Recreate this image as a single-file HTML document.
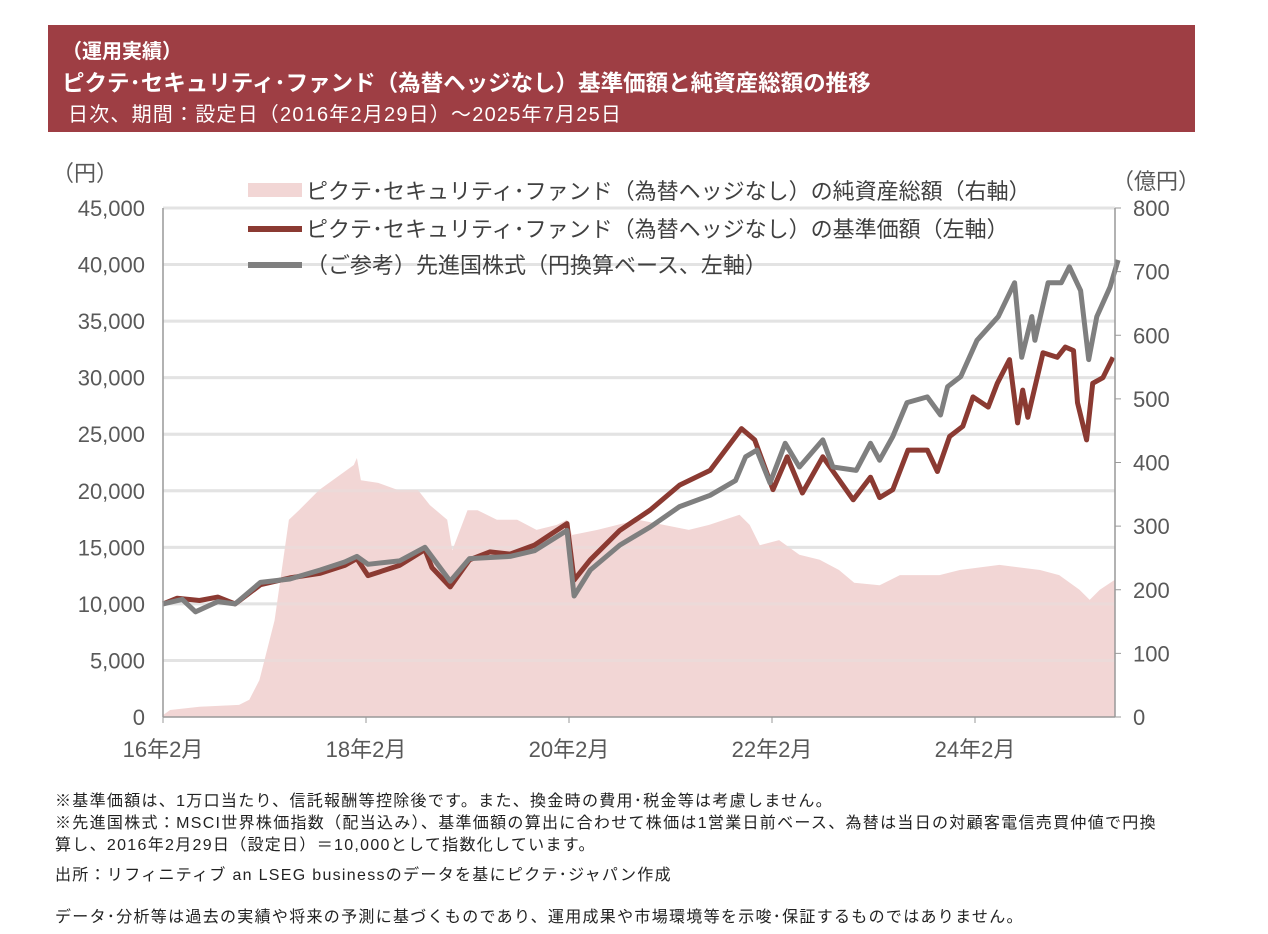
<!DOCTYPE html>
<html><head><meta charset="utf-8">
<style>
body{margin:0;background:#fff;width:1268px;height:934px;overflow:hidden;font-family:"Liberation Sans","Noto Sans CJK JP",sans-serif;}
#hdr{position:absolute;left:48px;top:25px;width:1147px;height:107px;background:#9e3e44;color:#fff;}
#hdr div{position:absolute;left:14px;white-space:nowrap;}
.note{position:absolute;left:55px;font-size:16px;letter-spacing:1.3px;color:#222;white-space:nowrap;}
</style></head><body>
<div id="hdr">
<div style="top:10px;font-size:20px;font-weight:bold;">（運用実績）</div>
<div style="top:41px;font-size:22.5px;font-weight:bold;">ピクテ･セキュリティ･ファンド（為替ヘッジなし）基準価額と純資産総額の推移</div>
<div style="top:73px;font-size:20px;letter-spacing:1.2px;left:20px;">日次、期間：設定日（2016年2月29日）～2025年7月25日</div>
</div>
<svg id="chart" width="1268" height="934" style="position:absolute;left:0;top:0"></svg>
<div class="note" style="top:787px">※基準価額は、1万口当たり、信託報酬等控除後です。また、換金時の費用･税金等は考慮しません。</div>
<div class="note" style="top:809px">※先進国株式：MSCI世界株価指数（配当込み）、基準価額の算出に合わせて株価は1営業日前ベース、為替は当日の対顧客電信売買仲値で円換</div>
<div class="note" style="top:831px">算し、2016年2月29日（設定日）＝10,000として指数化しています。</div>
<div class="note" style="top:861px">出所：リフィニティブ an LSEG businessのデータを基にピクテ･ジャパン作成</div>
<div class="note" style="top:903px">データ･分析等は過去の実績や将来の予測に基づくものであり、運用成果や市場環境等を示唆･保証するものではありません。</div>
<script>
const leftTicks=[0,5000,10000,15000,20000,25000,30000,35000,40000,45000];
const rightTicks=[0,100,200,300,400,500,600,700,800];
const xTickYears=[2016.16,2018.16,2020.16,2022.16,2024.16];
const xTickLabels=["16年2月","18年2月","20年2月","22年2月","24年2月"];
const fundT=[2016.16,2016.3,2016.52,2016.7,2016.87,2017.12,2017.41,2017.71,2017.95,2018.07,2018.18,2018.49,2018.74,2018.81,2018.99,2019.18,2019.38,2019.58,2019.82,2020.14,2020.21,2020.37,2020.66,2020.96,2021.25,2021.55,2021.86,2021.99,2022.17,2022.31,2022.46,2022.66,2022.96,2023.13,2023.22,2023.35,2023.5,2023.69,2023.79,2023.91,2024.04,2024.14,2024.29,2024.38,2024.5,2024.58,2024.63,2024.68,2024.83,2024.97,2025.05,2025.13,2025.17,2025.26,2025.32,2025.42,2025.52];
const fundV=[10000,10500,10300,10600,10000,11700,12300,12700,13400,14000,12500,13400,14800,13200,11500,13900,14600,14400,15200,17100,12100,13900,16500,18300,20500,21800,25500,24500,20100,23000,19800,23000,19200,21200,19400,20100,23600,23600,21700,24800,25700,28300,27400,29500,31600,26000,28900,26500,32200,31800,32700,32400,27800,24500,29500,30000,31800];
const msciT=[2016.16,2016.35,2016.48,2016.7,2016.87,2017.12,2017.41,2017.71,2017.95,2018.07,2018.18,2018.49,2018.74,2018.99,2019.18,2019.58,2019.82,2020.14,2020.21,2020.37,2020.66,2020.96,2021.25,2021.55,2021.8,2021.9,2022.01,2022.14,2022.29,2022.43,2022.66,2022.76,2022.99,2023.13,2023.22,2023.35,2023.49,2023.69,2023.82,2023.89,2024.02,2024.18,2024.39,2024.55,2024.62,2024.72,2024.75,2024.88,2025.01,2025.09,2025.2,2025.28,2025.36,2025.49,2025.57];
const msciV=[10000,10400,9300,10200,10000,11900,12200,13000,13700,14200,13500,13800,15000,12000,14000,14200,14700,16500,10700,13000,15200,16800,18600,19600,20900,23000,23600,20700,24200,22100,24500,22100,21800,24200,22700,24800,27800,28300,26700,29200,30100,33300,35400,38400,31800,35400,33300,38400,38400,39800,37700,31600,35400,38000,40400];
const aumT=[2016.16,2016.23,2016.52,2016.91,2017.01,2017.11,2017.26,2017.4,2017.5,2017.7,2017.9,2018.04,2018.07,2018.11,2018.28,2018.47,2018.67,2018.79,2018.96,2019.01,2019.16,2019.26,2019.45,2019.65,2019.84,2020.04,2020.14,2020.19,2020.44,2020.84,2021.34,2021.54,2021.84,2021.94,2022.04,2022.23,2022.43,2022.63,2022.82,2022.97,2023.22,2023.42,2023.81,2024.01,2024.4,2024.8,2024.99,2025.19,2025.29,2025.39,2025.54];
const aumV=[3,11,16,19,27,58,152,310,325,357,380,396,407,372,368,357,357,333,310,262,325,325,310,310,294,302,310,286,294,310,294,302,318,302,270,278,255,247,231,211,207,223,223,231,239,231,223,200,184,200,216];

const svg=document.getElementById('chart');
const NS='http://www.w3.org/2000/svg';
const X0=163,X1=1115,Y0=717,Y1=208;
const xs=t=>X0+(t-2016.16)*101.5;
const yl=v=>Y0-v/45000*(Y0-Y1);
const yr=v=>Y0-v/800*(Y0-Y1);
function mk(tag,attrs,parent){const e=document.createElementNS(NS,tag);for(const k in attrs)e.setAttribute(k,attrs[k]);(parent||svg).appendChild(e);return e;}
function txt(s,attrs){const e=mk('text',Object.assign({'font-size':22,fill:'#595959','font-family':'"Liberation Sans","Noto Sans CJK JP",sans-serif'},attrs));e.textContent=s;return e;}

leftTicks.forEach(v=>{
 if(v>0){const g=mk('line',{x1:X0,x2:X1,y1:yl(v),y2:yl(v),stroke:'#e3e3e3','stroke-width':3});
 
 }
 const t=txt(v.toLocaleString('en-US'),{x:145,y:yl(v)+8,'text-anchor':'end'});
 
 
});
rightTicks.forEach(v=>{
 mk('line',{x1:X1,x2:X1+6,y1:yr(v),y2:yr(v),stroke:'#999','stroke-width':1});
 const t=txt(String(v),{x:1133,y:yr(v)+8});
 
 
});
let d=`M${xs(aumT[0])},${Y0}`;aumT.forEach((t,i)=>{d+=` L${xs(t).toFixed(1)},${yr(aumV[i]).toFixed(1)}`;});d+=` L${xs(aumT[aumT.length-1])},${Y0} Z`;
const area=mk('path',{d:d,fill:'#f2d6d5'});


leftTicks.forEach(v=>{if(v>0)mk('line',{x1:X0,x2:X1,y1:yl(v),y2:yl(v),stroke:'#e3e3e3','stroke-width':3,'stroke-opacity':0.35});});
function line(T,V,color,name){
 const p=mk('polyline',{points:T.map((t,i)=>xs(t).toFixed(1)+','+yl(V[i]).toFixed(1)).join(' '),fill:'none',stroke:color,'stroke-width':5,'stroke-linejoin':'round'});
 
 
}
line(fundT,fundV,'#8b3a32','fund-nav-line');
line(msciT,msciV,'#7f7f7f','msci-line');
mk('line',{x1:X0,x2:X0,y1:Y1,y2:Y0,stroke:'#999','stroke-width':1.5});
mk('line',{x1:X1,x2:X1,y1:Y1,y2:Y0,stroke:'#999','stroke-width':1.5});
mk('line',{x1:X0,x2:X1,y1:Y0,y2:Y0,stroke:'#999','stroke-width':1.5});
xTickYears.forEach((t,i)=>{
 mk('line',{x1:xs(t),x2:xs(t),y1:Y0,y2:Y0+6,stroke:'#999','stroke-width':1});
 const l=txt(xTickLabels[i],{x:xs(t),y:757,'text-anchor':'middle'});
 
 
});
const u1=txt('（円）',{x:52,y:181});
const u2=txt('（億円）',{x:1112,y:189});
const lg=mk('rect',{x:248,y:183,width:54,height:14,fill:'#f2d6d5'});
mk('line',{x1:248,x2:302,y1:229,y2:229,stroke:'#8b3a32','stroke-width':6});
mk('line',{x1:248,x2:302,y1:265,y2:265,stroke:'#7f7f7f','stroke-width':6});
const l1=txt('ピクテ･セキュリティ･ファンド（為替ヘッジなし）の純資産総額（右軸）',{x:306,y:199,fill:'#404040'});
const l2=txt('ピクテ･セキュリティ･ファンド（為替ヘッジなし）の基準価額（左軸）',{x:306,y:237,fill:'#404040'});
const l3=txt('（ご参考）先進国株式（円換算ベース、左軸）',{x:306,y:273,fill:'#404040'});
</script>
</body></html>
